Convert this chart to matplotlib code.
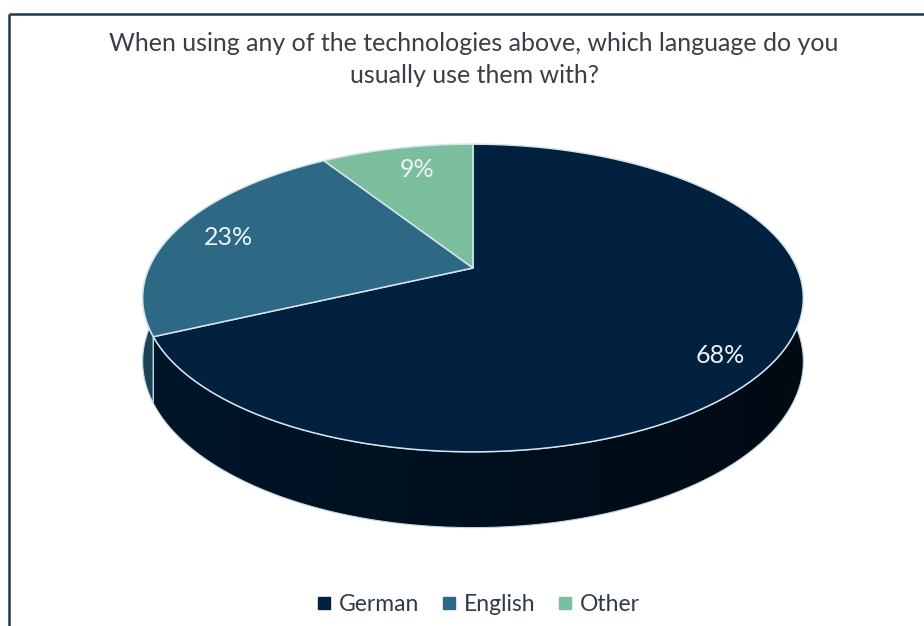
import numpy as np
import matplotlib.pyplot as plt
from matplotlib.patches import Polygon
from matplotlib.lines import Line2D
from matplotlib.colors import to_rgb

plt.rcParams['font.family'] = ['Lato', 'DejaVu Sans']

# Survey answers
languages = ['German', 'English', 'Other']
shares = [68, 23, 9]
colors = ['#01213f', '#2d6984', '#7bbf9e']
title = ('When using any of the technologies above, which language do you\n'
         'usually use them with?')

# Pie geometry in pixel space (perspective-tilted disc)
CX, CY = 473, 268      # pie centre on screen
A, B = 324, 148        # horizontal / depth radii
K = 0.195              # perspective strength
H = 61                 # thickness of the disc
label_r = 0.82


def proj(u, v, z=0.0):
    d = 1 + K * v
    return CX + A * u / d, CY - (B * v + H * z) / d


def arc(t1, t2, z=0.0, n=120):
    t = np.radians(np.linspace(t1, t2, n))
    return [proj(np.cos(a), np.sin(a), z) for a in t]


fig = plt.figure(figsize=(9.24, 6.26), dpi=100)
ax = fig.add_axes([0, 0, 1, 1])
ax.axis('off')

# slice angles: start at 12 o'clock, run clockwise
fracs = np.array(shares) / sum(shares)
bounds = 90 - 360 * np.concatenate([[0], np.cumsum(fracs)])

# side walls (front half only), shaded darker towards the right
xs = np.linspace(CX - A - 10, CX + A + 10, 400)
for i, col in enumerate(colors):
    t_hi, t_lo = bounds[i], bounds[i + 1]
    a1, a2 = min(t_hi, 0), max(t_lo, -180)
    if a1 <= a2:
        continue
    pts = arc(a1, a2, 0) + arc(a2, a1, -1)
    wall = Polygon(pts, closed=True, facecolor='none',
                   edgecolor='#c3d5e2', lw=0.8, zorder=2)
    ax.add_patch(wall)
    f = 0.66 - 0.36 * (xs - xs[0]) / (xs[-1] - xs[0])
    grad = np.array(to_rgb(col))[None, None, :] * f[None, :, None]
    ys = [p[1] for p in pts]
    im = ax.imshow(grad, extent=(xs[0], xs[-1], max(ys) + 2, min(ys) - 2),
                   aspect='auto', interpolation='bilinear', zorder=1)
    im.set_clip_path(wall)

ax.set_xlim(0, 924)
ax.set_ylim(626, 0)

# top faces
for i, col in enumerate(colors):
    pts = [(CX, CY)] + arc(bounds[i], bounds[i + 1])
    ax.add_patch(Polygon(pts, closed=True, facecolor=col,
                         edgecolor='#d6e4ee', lw=1.1, zorder=3))

# percentage labels
label_off = [(2, 16), (0, 2), (8, 3)]
for i, s in enumerate(shares):
    mid = np.radians((bounds[i] + bounds[i + 1]) / 2)
    x, y = proj(label_r * np.cos(mid), label_r * np.sin(mid))
    dx, dy = label_off[i]
    ax.text(x + dx, y + dy, f'{s}%', color='#eef3f6', fontsize=18,
            ha='center', va='center', zorder=4)

fig.text(0.513, 0.905, title, ha='center', va='center', fontsize=18,
         color='#3a3f47', linespacing=1.45)

# frame lines
ax.plot([9, 924], [14, 14], color='#1f3556', lw=1.8, solid_capstyle='butt')
ax.plot([9, 9], [14, 626], color='#1f3556', lw=1.8, solid_capstyle='butt')

handles = [Line2D([], [], marker='s', linestyle='none', markersize=8,
                  markerfacecolor=c, markeredgecolor=c) for c in colors]
fig.legend(handles, languages, loc='center', bbox_to_anchor=(0.517, 0.035),
           ncol=3, frameon=False, fontsize=16.5, handlelength=0.7,
           handletextpad=0.3, columnspacing=0.95, labelcolor='#2f3b48')

fig.savefig('out.png', dpi=100)
